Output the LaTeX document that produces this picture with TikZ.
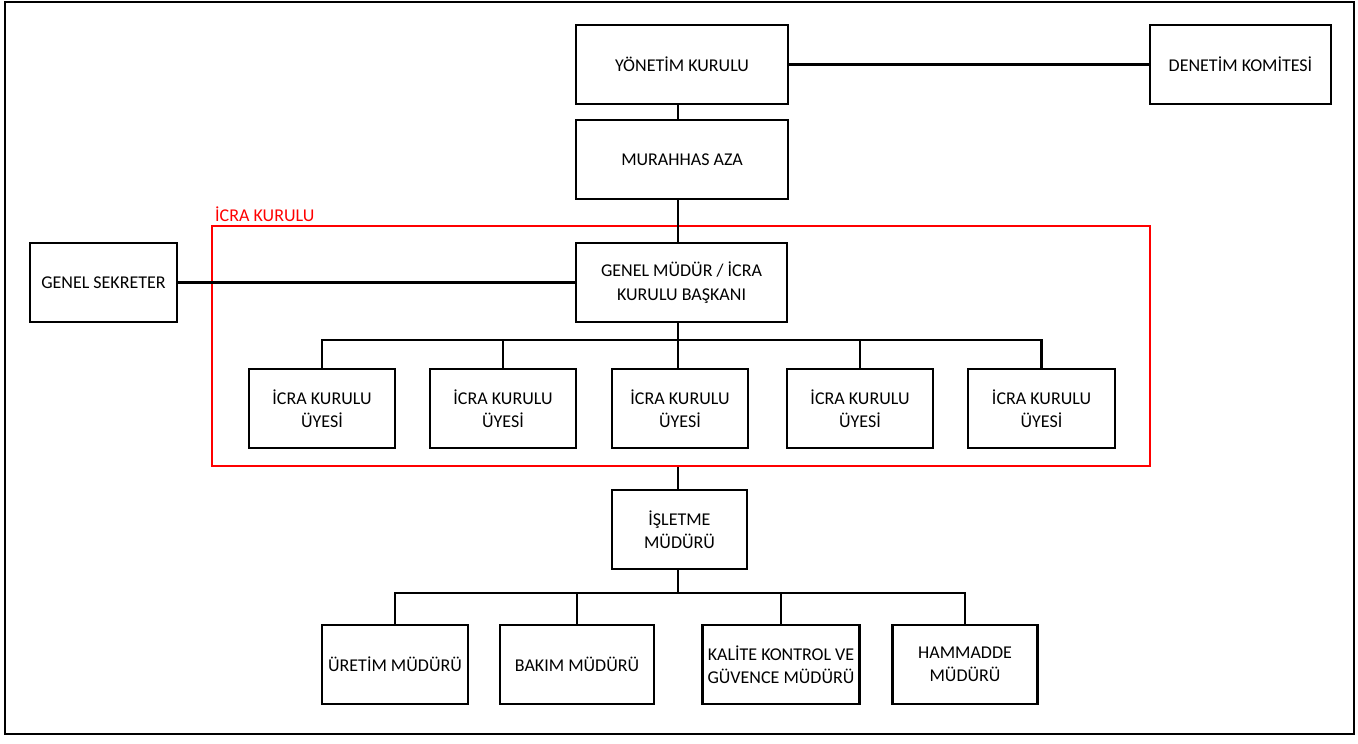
\documentclass[tikz,border=0pt]{standalone}
\usepackage{fontspec}
\setmainfont{Carlito}
\begin{document}
\begin{tikzpicture}[x=1pt,y=-1pt,
  box/.style={draw, line width=2.2pt, align=center, inner sep=0pt, minimum height=79pt,
    font=\fontsize{18}{23.5}\selectfont},
  conn/.style={line width=2.2pt},
  redframe/.style={draw=red, line width=2.2pt, inner sep=0pt}]
\useasboundingbox (0,0) rectangle (1358,744);
\draw[line width=2.8pt] (5,2) rectangle (1354,734);
\coordinate (sp) at (678,0);
\coordinate (busA) at (0,340);
\coordinate (busB) at (0,593);

\node[box, minimum width=212pt] (yk) at (682,64.5) {YÖNETİM KURULU};
\node[box, minimum width=181pt] (dk) at (1240.5,64.5) {DENETİM KOMİTESİ};
\node[box, minimum width=212pt] (ma) at (682,159.5) {MURAHHAS AZA};

\node[redframe, minimum width=938pt, minimum height=240pt] (icra) at (681,346) {};
\node[anchor=base west, inner sep=0pt, text=red, font=\fontsize{18}{23.5}\selectfont] (icralbl) at (215,221) {İCRA KURULU};

\node[box, minimum width=147pt] (gs) at (103.5,282.5) {GENEL SEKRETER};
\node[box, minimum width=211pt] (gm) at (681.5,282.5) {GENEL MÜDÜR / İCRA\\KURULU BAŞKANI};

\node[box, minimum width=146pt] (m1) at (322,408.5) {İCRA KURULU\\ÜYESİ};
\node[box, minimum width=146pt] (m2) at (503,408.5) {İCRA KURULU\\ÜYESİ};
\node[box, minimum width=136pt] (m3) at (680,408.5) {İCRA KURULU\\ÜYESİ};
\node[box, minimum width=146pt] (m4) at (860,408.5) {İCRA KURULU\\ÜYESİ};
\node[box, minimum width=147pt] (m5) at (1041.5,408.5) {İCRA KURULU\\ÜYESİ};

\node[box, minimum width=135pt] (isl) at (679.5,529.5) {İŞLETME\\MÜDÜRÜ};

\node[box, minimum width=146pt] (b1) at (395,664.5) {ÜRETİM MÜDÜRÜ};
\node[box, minimum width=154pt] (b2) at (577,664.5) {BAKIM MÜDÜRÜ};
\node[box, minimum width=157pt] (b3) at (781,664.5) {KALİTE KONTROL VE\\GÜVENCE MÜDÜRÜ};
\node[box, minimum width=145pt] (b4) at (965,664.5) {HAMMADDE\\MÜDÜRÜ};

% connectors
\draw[conn] (yk.east) -- (dk.west);
\draw[conn] (yk.south -| sp) -- (ma.north -| sp);
\draw[conn] (ma.south -| sp) -- (gm.north -| sp);
\draw[conn] (gs.east) -- (gm.west);
\draw[conn] (gm.south -| sp) -- (sp |- busA);
\draw[conn] (m1.north) -- (m1.north |- busA) -- (m5.north |- busA) -- (m5.north);
\draw[conn] (m2.north) -- (m2.north |- busA);
\draw[conn] (m3.north -| sp) -- (sp |- busA);
\draw[conn] (m4.north) -- (m4.north |- busA);
\draw[conn] (icra.south -| sp) -- (isl.north -| sp);
\draw[conn] (isl.south -| sp) -- (sp |- busB);
\draw[conn] (b1.north) -- (b1.north |- busB) -- (b4.north |- busB) -- (b4.north);
\draw[conn] (b2.north) -- (b2.north |- busB);
\draw[conn] (b3.north) -- (b3.north |- busB);
\end{tikzpicture}
\end{document}
